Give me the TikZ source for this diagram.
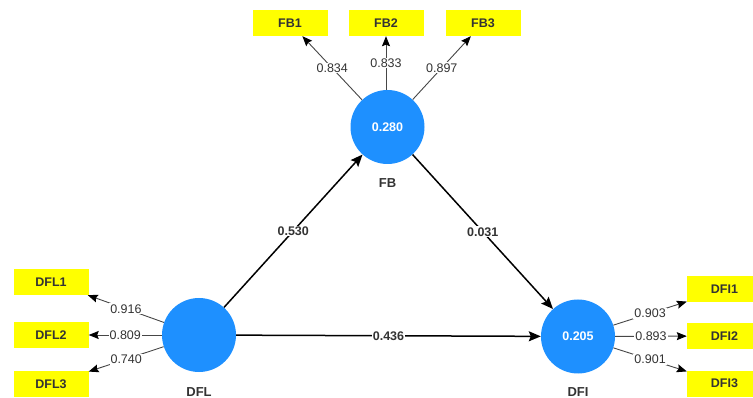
\documentclass[tikz,border=0pt]{standalone}
\usepackage{fontspec}
\setmainfont{Liberation Sans}
\usetikzlibrary{arrows.meta}
\definecolor{lvblue}{RGB}{30,144,255}
\definecolor{mvyellow}{RGB}{255,255,0}
\definecolor{txtgray}{RGB}{51,51,51}
\definecolor{lngray}{RGB}{70,70,70}
\tikzset{
  latent/.style={circle,fill=lvblue,draw=none,minimum size=74pt,inner sep=0pt,
    text=white,font=\fontsize{12.5}{14}\selectfont\bfseries},
  manifest/.style={rectangle,fill=mvyellow,draw=none,minimum width=75pt,minimum height=26pt,
    inner sep=0pt,text=txtgray,font=\fontsize{12.5}{14}\selectfont\bfseries},
  lvname/.style={text=txtgray,font=\fontsize{13}{15}\selectfont\bfseries},
  loadarrow/.style={draw=lngray,line width=0.9pt,-{Stealth[length=10pt,width=8pt,inset=1.5pt,color=black]}},
  patharrow/.style={draw=black,line width=1.5pt,-{Stealth[length=12pt,width=10pt,inset=2pt]}},
  loadlbl/.style={fill=white,inner sep=1pt,text=txtgray,font=\fontsize{12.5}{14}\selectfont},
  pathlbl/.style={fill=white,inner sep=1pt,text=txtgray,font=\fontsize{12.5}{14}\selectfont\bfseries},
}
\begin{document}
\begin{tikzpicture}[x=1pt,y=-1pt]
\useasboundingbox (0,0) rectangle (753,398);
\begin{scope}
\clip (0,0) rectangle (753,398);
% latent variables
\node[latent] (FB) at (387.5,127) {0.280};
\node[latent] (DFL) at (199,335) {};
\node[latent] (DFI) at (578,336.5) {0.205};
\node[lvname] (FBn) at (387.5,183) {FB};
\node[lvname] (DFLn) at (199,392) {DFL};
\node[lvname] (DFIn) at (578,392) {DFI};
% indicators
\node[manifest] (FB1) at (290,23) {FB1};
\node[manifest] (FB2) at (386,23) {FB2};
\node[manifest] (FB3) at (483,23) {FB3};
\node[manifest] (DFL1) at (51,282) {DFL1};
\node[manifest] (DFL2) at (51,335) {DFL2};
\node[manifest] (DFL3) at (51,384) {DFL3};
\node[manifest] (DFI1) at (724.5,289.5) {DFI1};
\node[manifest] (DFI2) at (724.5,336) {DFI2};
\node[manifest] (DFI3) at (724.5,383.5) {DFI3};
% loadings
\draw[loadarrow] (FB) -- node[loadlbl,pos=0.5] {0.834} (FB1);
\draw[loadarrow] (FB.north -| FB2) -- node[loadlbl,pos=0.5] {0.833} (FB2);
\draw[loadarrow] (FB) -- node[loadlbl,pos=0.5] {0.897} (FB3);
\draw[loadarrow] (DFL) -- node[loadlbl,pos=0.5] {0.916} (DFL1);
\draw[loadarrow] (DFL) -- node[loadlbl,pos=0.5] {0.809} (DFL2);
\draw[loadarrow] (DFL) -- node[loadlbl,pos=0.5] {0.740} (DFL3);
\draw[loadarrow] (DFI) -- node[loadlbl,pos=0.5] {0.903} (DFI1);
\draw[loadarrow] (DFI) -- node[loadlbl,pos=0.5] {0.893} (DFI2);
\draw[loadarrow] (DFI) -- node[loadlbl,pos=0.5] {0.901} (DFI3);
% structural paths
\draw[patharrow] (DFL) -- node[pathlbl] {0.530} (FB);
\draw[patharrow] (FB) -- node[pathlbl] {0.031} (DFI);
\draw[patharrow] (DFL) -- node[pathlbl] {0.436} (DFI);
\end{scope}
\end{tikzpicture}
\end{document}
